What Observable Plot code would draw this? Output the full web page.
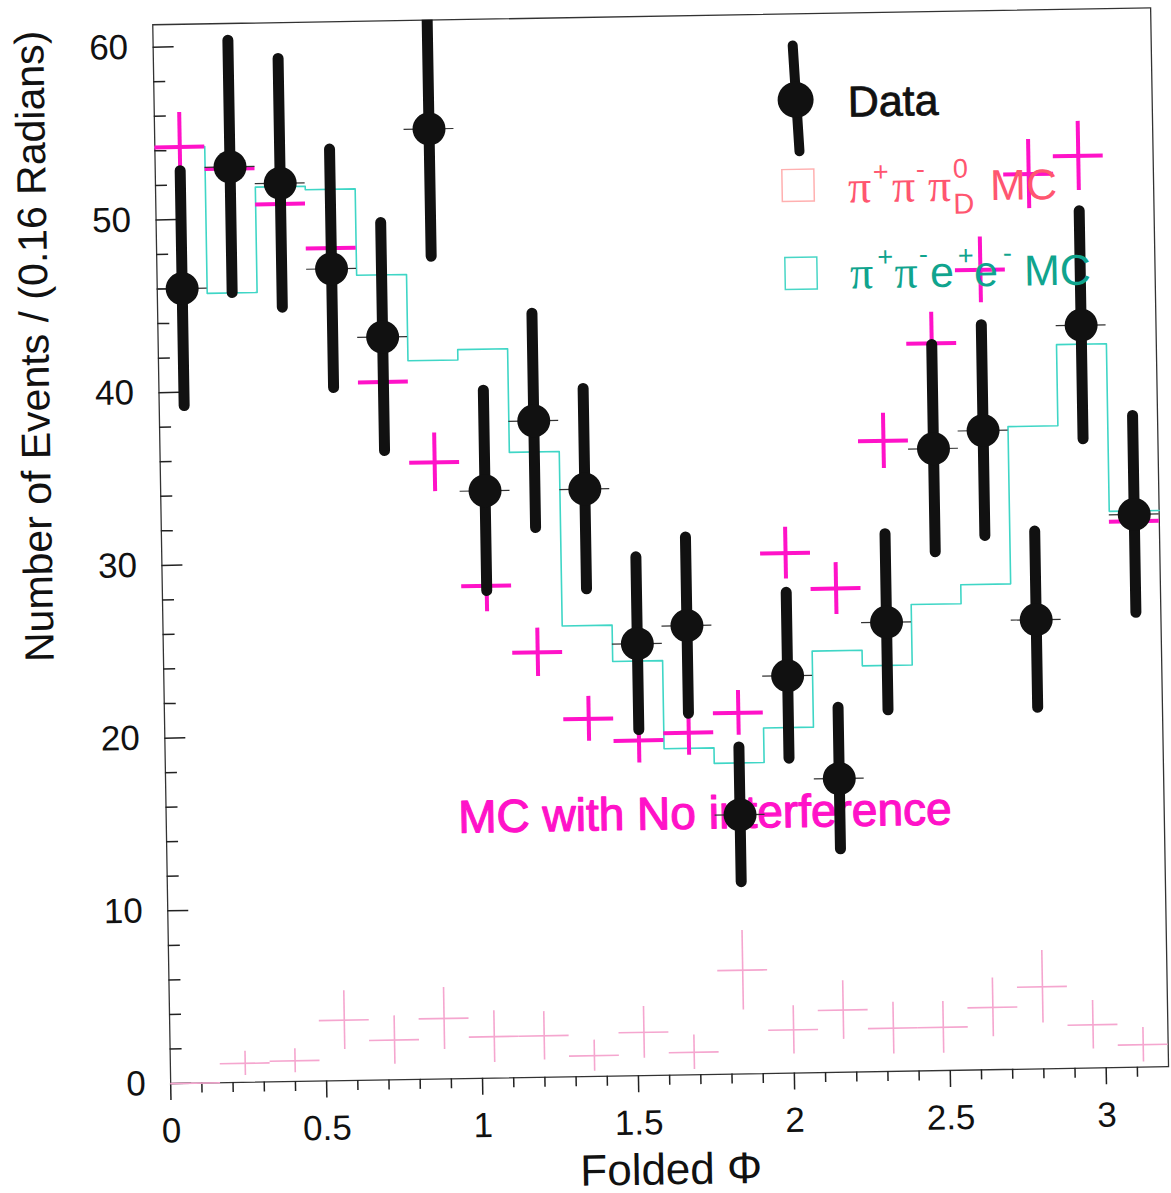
<!DOCTYPE html>
<html><head><meta charset="utf-8">
<script src="https://cdn.jsdelivr.net/npm/d3@7"></script>
<script src="https://cdn.jsdelivr.net/npm/@observablehq/plot@0.6"></script>
<style>
html,body{margin:0;padding:0;background:#fff;overflow:hidden;}
#wrap{position:relative;width:1171px;height:1193px;transform:rotate(-0.97deg);transform-origin:585.5px 596.5px;}
</style></head><body><div id="wrap"></div>
<script>
// Folded Phi bins (0.16 rad each)
const binEdges = [0,0.16,0.32,0.48,0.64,0.8,0.96,1.12,1.28,1.44,1.6,1.76,1.92,2.08,2.24,2.4,2.56,2.72,2.88,3.04,3.2];
const binCenters = [0.08,0.24,0.4,0.56,0.72,0.88,1.04,1.2,1.36,1.52,1.68,1.84,2.0,2.16,2.32,2.48,2.64,2.8,2.96,3.12];
// Data (black points, Poisson errors)
const dataCounts = [46,53,52,47,43,55,34,38,34,25,26,15,23,17,26,36,37,26,43,32];
const dataErrors = [6.8,7.3,7.2,6.9,6.6,7.4,5.8,6.2,5.8,5.0,5.1,3.9,4.8,4.1,5.1,6.0,6.1,5.1,6.6,5.7];
// pi+ pi- e+ e- MC (cyan histogram)
const eeMC = [54.2,45.7,51.8,51.6,46.6,41.6,42.2,36.2,26.1,24.0,18.9,18.0,20.0,24.4,23.5,27.0,28.1,37.2,41.9,32.2];
// MC with no interference (magenta crosses)
const noIntMC = [54.2,52.9,50.8,48.2,40.4,35.7,28.5,24.6,20.7,19.4,19.8,20.9,30.1,28.0,36.5,42.1,46.3,51.8,52.8,31.6];
const noIntErr = [2.0,1.9,1.8,1.8,1.8,1.7,1.5,1.4,1.3,1.3,1.3,1.3,1.5,1.5,1.6,1.8,1.9,2.0,2.0,1.6];
// pi+ pi- pi0_D MC (faint pink crosses)
const pi0DMC = [0,1.1,1.2,3.5,2.3,3.5,2.4,2.4,1.2,2.5,1.3,6.0,2.5,3.6,2.5,2.5,3.6,4.75,2.5,1.3];
const pi0DErr = [0,0.7,0.7,1.7,1.4,1.8,1.5,1.4,0.9,1.5,1.0,2.3,1.4,1.7,1.5,1.5,1.7,2.1,1.4,1.0];
// Axis ticks
const xMajor = [0,0.5,1,1.5,2,2.5,3];
const xMajorLabels = ["0","0.5","1","1.5","2","2.5","3"];
const xMinor = [0.1,0.2,0.3,0.4,0.6,0.7,0.8,0.9,1.1,1.2,1.3,1.4,1.6,1.7,1.8,1.9,2.1,2.2,2.3,2.4,2.6,2.7,2.8,2.9,3.1];
const yMajor = [0,10,20,30,40,50,60];
const yMinor = [2,4,6,8,12,14,16,18,22,24,26,28,32,34,36,38,42,44,46,48,52,54,56,58];

const rows = binCenters.map((x, i) => ({
  x, lo: binEdges[i], hi: binEdges[i+1],
  data: dataCounts[i], dErr: dataErrors[i],
  ni: noIntMC[i], niErr: noIntErr[i],
  pd: pi0DMC[i], pdErr: pi0DErr[i]
}));
const stepPts = binEdges.map((e, i) => ({x: e, y: eeMC[Math.min(i, eeMC.length - 1)]}));

const MAGENTA = "#ff12c8", PINK = "#f5a6cf", CYAN = "#3fd6c6";
const SANS = "'Liberation Sans', Arial, Helvetica, sans-serif";
const SERIF = "'Liberation Serif', 'Times New Roman', serif";

const svg = Plot.plot({
  width: 1171, height: 1193,
  marginLeft: 162, marginRight: 11, marginTop: 17, marginBottom: 117,
  x: {domain: [0, 3.2]},
  y: {domain: [0, 61.3]},
  style: {fontFamily: SANS, fontSize: "35px", background: "white", color: "#111"},
  marks: [
    Plot.frame({stroke: "#333", strokeWidth: 1.3}),
    Plot.axisX(xMajor, {tickSize: 17, tickPadding: 17, fontSize: 35, label: null, stroke: "#222", strokeWidth: 1.5,
      tickFormat: d => xMajorLabels[xMajor.indexOf(d)]}),
    Plot.axisX(xMinor, {tickSize: 10, tickFormat: () => "", label: null, stroke: "#222", strokeWidth: 1.5}),
    Plot.axisY(yMajor, {tickSize: 0, tickPadding: 25, fontSize: 35, label: null}),
    Plot.ruleY(yMajor, {y: d => d, x1: 0, x2: 0, insetRight: -21, stroke: "#222", strokeWidth: 1.5}),
    Plot.ruleY(yMinor, {y: d => d, x1: 0, x2: 0, insetRight: -12, stroke: "#222", strokeWidth: 1.5}),
    // cyan pi+pi-e+e- MC histogram
    Plot.line(stepPts, {x: "x", y: "y", curve: "step-after", stroke: CYAN, strokeWidth: 1.6}),
    // faint pink pi+pi-pi0_D MC
    Plot.ruleX(rows, {x: "x", y1: d => d.pd - d.pdErr, y2: d => d.pd + d.pdErr, stroke: PINK, strokeWidth: 1.6}),
    Plot.ruleY(rows, {y: "pd", x1: "lo", x2: "hi", stroke: PINK, strokeWidth: 1.6}),
    // magenta MC with no interference
    Plot.ruleX(rows, {x: "x", y1: d => d.ni - d.niErr, y2: d => d.ni + d.niErr, stroke: MAGENTA, strokeWidth: 4}),
    Plot.ruleY(rows, {y: "ni", x1: "lo", x2: "hi", stroke: MAGENTA, strokeWidth: 4}),
    // annotation (drawn under the data points, as in the reference)
    Plot.text(["MC with No interference"], {frameAnchor: "top-left", dx: 292, dy: 813, textAnchor: "start", lineAnchor: "bottom", fontSize: 46, fill: MAGENTA, stroke: MAGENTA, strokeWidth: 1.2}),
    // data
    Plot.ruleY(rows, {y: "data", x1: "lo", x2: "hi", stroke: "#333", strokeWidth: 1.2}),
    Plot.ruleX(rows, {x: "x", y1: d => d.data - d.dErr, y2: d => d.data + d.dErr, stroke: "#111", strokeWidth: 11, strokeLinecap: "round", clip: true}),
    Plot.dot(rows, {x: "x", y: "data", r: 16.5, fill: "#111", stroke: "none"}),
    // axis titles
    Plot.text(["Number of Events / (0.16 Radians)"], {frameAnchor: "top-left", dx: -123, dy: 4, rotate: -90, textAnchor: "end", lineAnchor: "middle", fontSize: 41, fill: "#111"}),
    Plot.text(["Folded Φ"], {frameAnchor: "bottom", dy: 95, lineAnchor: "middle", fontSize: 44, fill: "#111"})
  ]
});

// Legend (inside the frame, upper right)
const g = d3.select(svg).append("g").attr("class", "legend").attr("text-anchor", "start");
g.append("line").attr("x1", 802).attr("y1", 49).attr("x2", 807).attr("y2", 155)
  .attr("stroke", "#111").attr("stroke-width", 10).attr("stroke-linecap", "round");
g.append("circle").attr("cx", 804).attr("cy", 103.5).attr("r", 18).attr("fill", "#111");
function piece(x, y, str, size, family, fill) {
  return g.append("text").attr("x", x).attr("y", y).attr("font-size", size)
    .attr("font-family", family).attr("fill", fill).attr("text-anchor", "start").text(str);
}
piece(856, 121, "Data", 43, SANS, "#111").attr("stroke", "#111").attr("stroke-width", 0.8);
g.append("rect").attr("x", 789).attr("y", 173).attr("width", 32).attr("height", 32)
  .attr("fill", "none").attr("stroke", "#ffb0b0").attr("stroke-width", 1.5);
const RED = "#ff5670";
piece(855, 207, "π", 46, SERIF, RED);
piece(880, 186, "+", 27, SANS, RED);
piece(899, 207, "π", 46, SERIF, RED);
piece(923, 184, "-", 27, SANS, RED);
piece(935, 207, "π", 46, SERIF, RED);
piece(960, 184, "0", 27, SANS, RED);
piece(960, 220, "D", 29, SANS, RED);
piece(997, 207, "MC", 43, SANS, RED);
g.append("rect").attr("x", 790.5).attr("y", 261).attr("width", 32).attr("height", 32)
  .attr("fill", "none").attr("stroke", "#48d6c6").attr("stroke-width", 1.5);
const TEAL = "#10a48e";
piece(855.5, 293, "π", 46, SERIF, TEAL);
piece(883, 271, "+", 27, SANS, TEAL);
piece(900, 293, "π", 46, SERIF, TEAL);
piece(924.5, 269, "-", 27, SANS, TEAL);
piece(935.5, 293, "e", 43, SANS, TEAL);
piece(963.5, 271, "+", 27, SANS, TEAL);
piece(979.5, 293, "e", 43, SANS, TEAL);
piece(1008.5, 269, "-", 27, SANS, TEAL);
piece(1029.5, 293, "MC", 43, SANS, TEAL);

document.getElementById("wrap").appendChild(svg);
</script></body></html>
